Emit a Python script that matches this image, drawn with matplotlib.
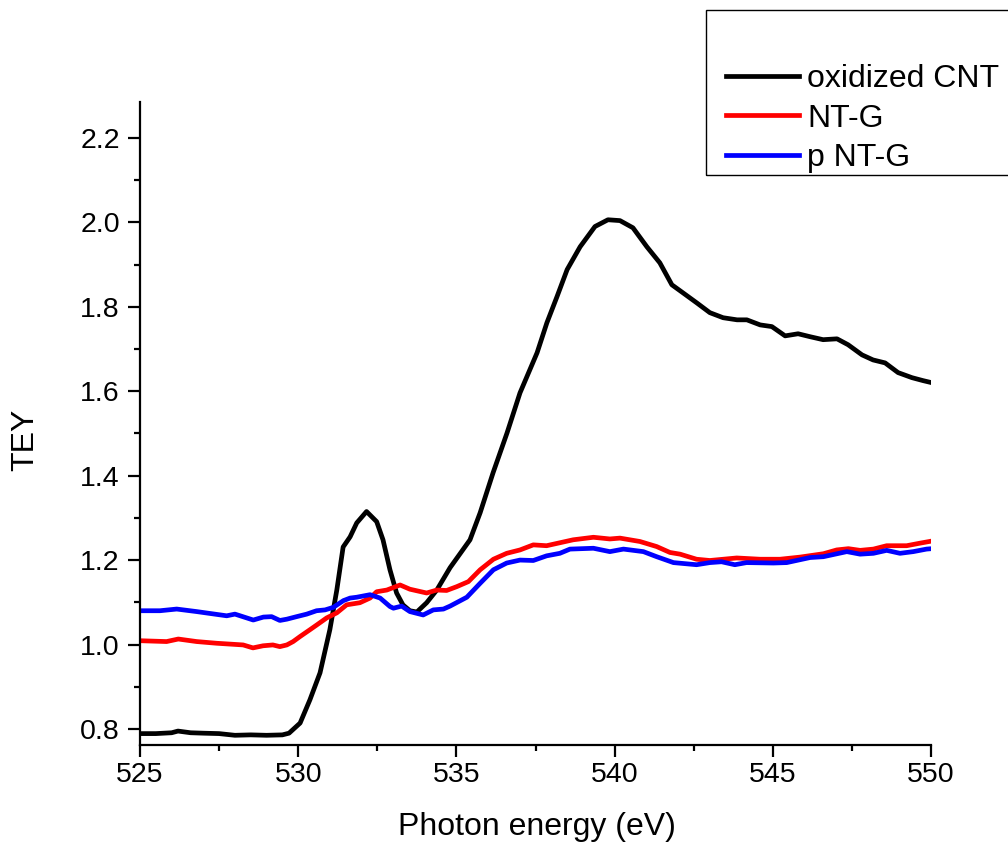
import numpy as np
import matplotlib.pyplot as plt
from matplotlib.patches import Rectangle

plt.rcParams['font.family'] = ['Liberation Sans', 'DejaVu Sans']

# oxidized CNT (black)
e_cnt = [525.0, 525.5, 526.0, 526.2, 526.6, 527.0, 527.5, 528.0, 528.5, 529.0,
         529.5, 529.71, 530.06, 530.37, 530.69, 531.0, 531.22, 531.42, 531.64, 531.85,
         532.16, 532.48, 532.68, 532.9, 533.11, 533.31, 533.53, 533.75, 534.06, 534.38,
         534.8, 535.43, 535.75, 536.16, 536.6, 537.01, 537.55, 537.86, 538.18, 538.5,
         538.91, 539.38, 539.79, 540.17, 540.58, 541.02, 541.43, 541.81, 542.16, 542.6,
         543.01, 543.43, 543.87, 544.18, 544.6, 544.97, 545.39, 545.8, 546.18, 546.59,
         547.03, 547.38, 547.82, 548.17, 548.55, 548.96, 549.4, 549.75, 550.03]
tey_cnt = [0.789, 0.789, 0.791, 0.795, 0.791, 0.790, 0.789, 0.785, 0.786, 0.785,
           0.786, 0.790, 0.814, 0.869, 0.933, 1.035, 1.129, 1.231, 1.255, 1.288,
           1.315, 1.291, 1.248, 1.177, 1.122, 1.094, 1.080, 1.077, 1.099, 1.129,
           1.182, 1.248, 1.312, 1.407, 1.501, 1.596, 1.691, 1.762, 1.824, 1.888,
           1.942, 1.990, 2.006, 2.004, 1.987, 1.942, 1.904, 1.852, 1.833, 1.809,
           1.786, 1.774, 1.769, 1.769, 1.757, 1.753, 1.731, 1.736, 1.729, 1.722,
           1.724, 1.710, 1.686, 1.674, 1.667, 1.644, 1.632, 1.625, 1.620]

# NT-G (red)
e_ntg = [525.0, 525.84, 526.21, 526.79, 527.42, 528.26, 528.57, 528.89, 529.2, 529.42,
         529.64, 529.84, 530.06, 530.37, 530.58, 530.9, 531.22, 531.53, 531.95, 532.27,
         532.48, 532.8, 533.22, 533.53, 534.06, 534.38, 534.69, 535.01, 535.38, 535.75,
         536.17, 536.59, 537.01, 537.43, 537.85, 538.27, 538.69, 539.33, 539.85, 540.17,
         540.8, 541.33, 541.75, 542.07, 542.59, 543.01, 543.86, 544.6, 545.23, 545.86,
         546.6, 547.02, 547.39, 547.76, 548.18, 548.6, 549.23, 549.65, 550.02]
tey_ntg = [1.009, 1.007, 1.013, 1.007, 1.003, 0.999, 0.992, 0.997, 0.999, 0.995,
           0.999, 1.007, 1.019, 1.035, 1.046, 1.063, 1.075, 1.094, 1.099, 1.110,
           1.125, 1.129, 1.141, 1.131, 1.122, 1.129, 1.128, 1.137, 1.149, 1.177,
           1.202, 1.216, 1.224, 1.236, 1.234, 1.241, 1.248, 1.254, 1.250, 1.252,
           1.244, 1.232, 1.218, 1.214, 1.202, 1.199, 1.205, 1.202, 1.202, 1.207,
           1.215, 1.224, 1.227, 1.223, 1.226, 1.234, 1.234, 1.240, 1.245]

# p NT-G (blue)
e_pntg = [525.0, 525.63, 526.16, 526.79, 527.74, 528.0, 528.58, 528.9, 529.16, 529.42,
          529.64, 529.95, 530.27, 530.58, 530.85, 531.11, 531.43, 531.64, 531.85, 532.27,
          532.59, 532.9, 533.01, 533.27, 533.53, 533.95, 534.27, 534.59, 534.8, 535.33,
          535.75, 536.17, 536.59, 537.01, 537.43, 537.85, 538.27, 538.59, 539.33, 539.85,
          540.28, 540.91, 541.33, 541.86, 542.59, 543.01, 543.38, 543.8, 544.17, 545.02,
          545.44, 546.18, 546.6, 547.34, 547.76, 548.18, 548.6, 549.02, 549.44, 549.86,
          550.02]
tey_pntg = [1.080, 1.080, 1.084, 1.078, 1.068, 1.072, 1.058, 1.065, 1.066, 1.057,
            1.060, 1.066, 1.072, 1.080, 1.082, 1.088, 1.104, 1.110, 1.112, 1.118,
            1.110, 1.090, 1.086, 1.091, 1.078, 1.070, 1.082, 1.084, 1.091, 1.112,
            1.145, 1.177, 1.193, 1.200, 1.199, 1.210, 1.216, 1.226, 1.228, 1.220,
            1.226, 1.220, 1.208, 1.194, 1.189, 1.194, 1.196, 1.189, 1.194, 1.193,
            1.194, 1.206, 1.208, 1.220, 1.214, 1.216, 1.223, 1.216, 1.220, 1.226,
            1.227]

fig = plt.figure(figsize=(10.08, 8.42), dpi=100)
ax = fig.add_axes([0.1389, 0.1152, 0.7847, 0.7637])

ax.plot(e_cnt, tey_cnt, color='black', lw=3.4, label='oxidized CNT')
ax.plot(e_ntg, tey_ntg, color='#ff0000', lw=3.4, label='NT-G')
ax.plot(e_pntg, tey_pntg, color='#0000ff', lw=3.4, label='p NT-G')

ax.set_xlim(525, 550)
ax.set_ylim(0.762, 2.285)
ax.set_xticks(np.arange(525, 551, 5))
ax.set_xticks(np.arange(527.5, 550, 5), minor=True)
ax.set_yticks(np.arange(0.8, 2.21, 0.2))
ax.set_yticks(np.arange(0.9, 2.25, 0.2), minor=True)
ax.yaxis.set_major_formatter(plt.FormatStrFormatter('%.1f'))

for s in ['top', 'right']:
    ax.spines[s].set_visible(False)
for s in ['left', 'bottom']:
    ax.spines[s].set_linewidth(1.6)

ax.tick_params(which='major', length=8.5, width=1.6, labelsize=20.5, direction='out')
ax.tick_params(which='minor', length=4.5, width=1.6, direction='out')
ax.tick_params(axis='x', which='major', pad=4)
ax.tick_params(axis='y', which='major', pad=6)

ax.set_xlabel('Photon energy (eV)', fontsize=23)
ax.xaxis.label.set_va('center')
ax.xaxis.set_label_coords(0.502, -0.128)
ax.set_ylabel('TEY', fontsize=23)
ax.yaxis.label.set_va('center')
ax.yaxis.set_label_coords(-0.145, 0.474)

# legend box
fig.patches.append(Rectangle((706 / 1008, 1 - 175 / 842), 320 / 1008, 165 / 842,
                             transform=fig.transFigure, fill=False,
                             edgecolor='black', lw=1.0))
ax.legend(loc='upper left', bbox_to_anchor=(726 / 1008, 1 - 64 / 842),
          bbox_transform=fig.transFigure, frameon=False, fontsize=23,
          handlelength=2.29, handletextpad=0.25, borderpad=0, borderaxespad=0,
          labelspacing=0.3)

fig.savefig('out.png', dpi=100)
